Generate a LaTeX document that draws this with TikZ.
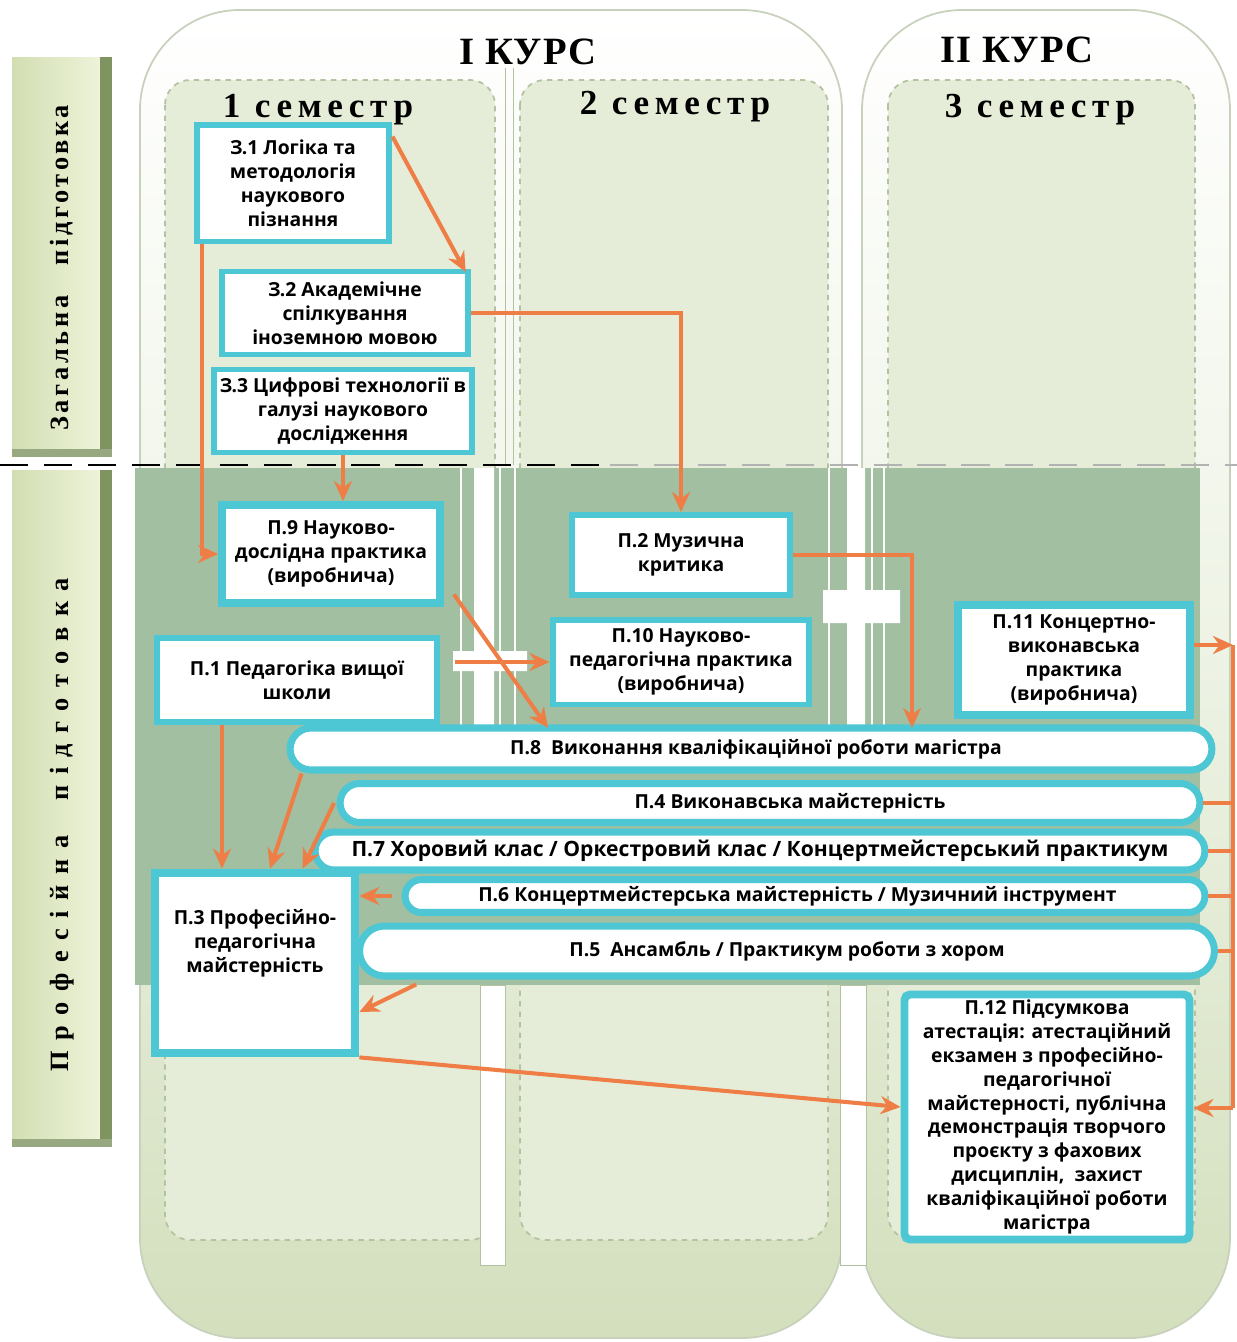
\documentclass[tikz,border=0pt]{standalone}
\usepackage{fontspec}
\setmainfont{Open Sans}
\newfontfamily\hdfont{Liberation Serif}
\usetikzlibrary{arrows.meta, positioning, calc}

\definecolor{cyanb}{HTML}{4EC7D5}
\definecolor{orangeA}{HTML}{EE7E45}
\definecolor{darkreg}{HTML}{A2BFA1}
\definecolor{semfill}{HTML}{E5EDD8}
\definecolor{semline}{HTML}{B3C2A0}
\definecolor{kursline}{HTML}{C7D1BC}
\definecolor{kursbot}{HTML}{D3DFBD}
\definecolor{barlight}{HTML}{EEF3D9}
\definecolor{barmid}{HTML}{D2DEB2}
\definecolor{bardark}{HTML}{7F9461}

\tikzset{
  box/.style={draw=cyanb, line width=3.4pt, fill=white, align=center,
    font=\bfseries\fontsize{11}{13.6}\selectfont, inner sep=1pt},
  pill/.style={box, line width=4pt},
  arr/.style={draw=orangeA, line width=2.3pt, -{Stealth[length=4mm, width=3.6mm]}},
  link/.style={draw=orangeA, line width=2.3pt},
  kurs/.style={draw=kursline, line width=1pt, top color=white, bottom color=kursbot,
    middle color=semfill!70!white, rounded corners=2cm},
  sem/.style={draw=semline, dashed, line width=1pt, fill=semfill, rounded corners=0.5cm},
  kurstitle/.style={font=\hdfont\bfseries\fontsize{22}{22}\selectfont\addfontfeature{LetterSpace=3}},
  semtitle/.style={font=\hdfont\bfseries\fontsize{20}{20}\selectfont\addfontfeature{LetterSpace=16}},
  sidetitle/.style={rotate=90, font=\hdfont\bfseries\fontsize{15}{15}\selectfont},
  strip/.style={draw=white, line width=1.2pt},
}

\begin{document}
\begin{tikzpicture}[x=0.02cm, y=-0.02cm]
\useasboundingbox (0,0) rectangle (1237,1342);
\fill[white] (0,0) rectangle (1237,1342);

% курси і семестри
\draw[kurs] (140,10) rectangle (842,1338);
\draw[kurs] (862,10) rectangle (1230,1338);
\draw[sem] (165,80) rectangle (495,1240);
\draw[sem] (520,80) rectangle (828,1240);
\draw[sem] (888,80) rectangle (1195,1240);
\draw[semline] (505,68) -- (505,465) (513,68) -- (513,465);
\node[kurstitle] (k1) at (528,52) {I КУРС};
\node[kurstitle] (k2) at (1017,50) {II КУРС};
\node[semtitle] (s1) at (318,110) {1 семестр};
\node[semtitle] (s2) at (675,107) {2 семестр};
\node[semtitle] (s3) at (1040,110) {3 семестр};

% бічні смуги
\shade[left color=barmid, right color=barlight] (12,57) rectangle (100,455);
\fill[bardark] (100,57) rectangle (112,455);
\fill[bardark!80] (12,449) rectangle (112,457);
\shade[left color=barmid, right color=barlight] (12,470) rectangle (100,1145);
\fill[bardark] (100,470) rectangle (112,1145);
\fill[bardark!80] (12,1139) rectangle (112,1147);
\node[sidetitle] (zp) at (62,268)
  {\addfontfeature{LetterSpace=14}Загальна\hspace{0.6cm}підготовка};
\node[sidetitle] (pp) at (62,825)
  {\addfontfeature{LetterSpace=40}Професійна\hspace{0.7cm}підготовка};

% професійна частина
\fill[darkreg] (135,468) rectangle (1200,985);
\fill[white] (474,468) rectangle (494,728) (847,468) rectangle (865,728);
\draw[strip] (461,468) -- (461,728) (500,468) -- (500,728) (515,468) -- (515,728);
\draw[strip] (829,468) -- (829,728) (872,468) -- (872,728) (884,468) -- (884,728);
\fill[white] (453,651) rectangle (527,671) (823,590) rectangle (900,623);
\draw[semline, fill=white] (480,985) rectangle (505,1265) (840,985) rectangle (866,1265);
\draw[dashed, line width=1.6pt, dash pattern=on 16pt off 9pt] (0,465) -- (610,465);
\draw[dashed, gray!60, line width=1.6pt, dash pattern=on 16pt off 9pt] (610,465) -- (1237,465);

% загальна підготовка
\node[box, minimum width=3.86cm, minimum height=2.34cm] (z1) at (293,183)
  {З.1 Логіка та\\методологія\\наукового\\пізнання};
\node[box, minimum width=4.92cm, minimum height=1.66cm] (z2) at (345,313)
  {З.2 Академічне\\спілкування\\іноземною мовою};
\node[box, minimum width=5.18cm, minimum height=1.66cm] (z3) at (343,411)
  {З.3 Цифрові технології в\\галузі наукового\\дослідження};

% професійна підготовка
\node[box, line width=4.5pt, minimum width=4.36cm, minimum height=1.96cm] (p9) at (331,554)
  {П.9 Науково-\\дослідна практика\\(виробнича)};
\node[box, minimum width=4.36cm, minimum height=1.6cm] (p2) at (681,555)
  {П.2 Музична\\критика};
\node[box, minimum width=5.6cm, minimum height=1.68cm] (p1) at (297,680)
  {П.1 Педагогіка вищої\\школи};
\node[box, minimum width=5.14cm, minimum height=1.7cm] (p10) at (681,662)
  {П.10 Науково-\\педагогічна практика\\(виробнича)};
\node[box, line width=4.5pt, minimum width=4.64cm, minimum height=2.2cm] (p11) at (1074,660)
  {П.11 Концертно-\\виконавська\\практика\\(виробнича)};

\node[pill, minimum width=18.44cm, minimum height=0.84cm, rounded corners=0.42cm] (p8) at (751,749)
  {\hspace{0.2cm}П.8\ \ Виконання кваліфікаційної роботи магістра};
\node[pill, minimum width=17.2cm, minimum height=0.78cm, rounded corners=0.39cm] (p4) at (770,803)
  {\hspace{0.8cm}П.4 Виконавська майстерність};
\node[pill, minimum width=17.8cm, minimum height=0.76cm, rounded corners=0.38cm,
  font=\bfseries\fontsize{12}{13.6}\selectfont] (p7) at (760,851)
  {П.7 Хоровий клас / Оркестровий клас / Концертмейстерський практикум};
\node[pill, minimum width=16cm, minimum height=0.66cm, rounded corners=0.33cm] (p6) at (805,896)
  {П.6 Концертмейстерська майстерність / Музичний інструмент\hspace{0.3cm}};
\node[pill, minimum width=17.1cm, minimum height=1.0cm, rounded corners=0.5cm] (p5) at (787,951)
  {П.5\ \ Ансамбль / Практикум роботи з хором};

\node[box, line width=5pt, minimum width=4cm, minimum height=3.6cm,
  label={[font=\bfseries\fontsize{11}{13.6}\selectfont, align=center, anchor=north, yshift=-0.7cm]north:{П.3 Професійно-\\педагогічна\\майстерність}}]
  (p3) at (255,963) {};
\node[box, line width=4.5pt, rounded corners=3pt, minimum width=5.7cm, minimum height=4.9cm] (p12) at (1047,1117)
  {П.12 Підсумкова\\атестація: атестаційний\\екзамен з професійно-\\педагогічної\\майстерності, публічна\\демонстрація творчого\\проєкту з фахових\\дисциплін,\ \ захист\\кваліфікаційної роботи\\магістра};

% зв'язки
\coordinate (p8a) at (548,728);
\coordinate (p8b) at (912,728);
\coordinate (rt) at (1233,645);
\coordinate (rb) at (1233,1108);
\draw[arr] ([yshift=-0.3cm]z1.north east) -- ([xshift=-3pt, yshift=-2pt]z2.north east);
\draw[arr] ([xshift=0.16cm]z1.south west) |- (p9.west);
\draw[arr] (z2.east) -| (p2.north);
\draw[arr] (z3.south) -- (z3.south |- p9.north);
\draw[arr] ([xshift=0.2cm, yshift=0.25cm]p9.south east) -- (p8a);
\draw[arr] ([xshift=0.3cm]p1.east |- p10.west) -- (p10.west);
\draw[arr] (p2.east) -| (p8b);
\draw[arr] (p11.east |- rt) -- (rt);
\draw[link] (rt) -- (rb);
\draw[arr] (rb) -- (p12.east |- rb);
\foreach \p in {p4, p7, p6, p5}
  \draw[link] (\p.east) -- (\p.east -| rt);
\draw[arr] ([xshift=-1.5cm]p1.south) -- ([xshift=-1.5cm]p1.south |- p3.north);
\draw[arr] ([xshift=0.3cm]p8.south west) -- ([xshift=0.3cm]p3.north);
\draw[arr] ([xshift=-0.05cm]p4.west) -- ([xshift=0.95cm]p3.north);
\draw[arr] ([xshift=-0.2cm]p6.west) -- (p6.west -| p3.east);
\draw[arr] ([xshift=1.2cm, yshift=-0.1cm]p5.south west) -- ([yshift=-0.98cm]p3.east);
\draw[arr] (p3.south east) -- ([yshift=0.2cm]p12.west);
\end{tikzpicture}
\end{document}
